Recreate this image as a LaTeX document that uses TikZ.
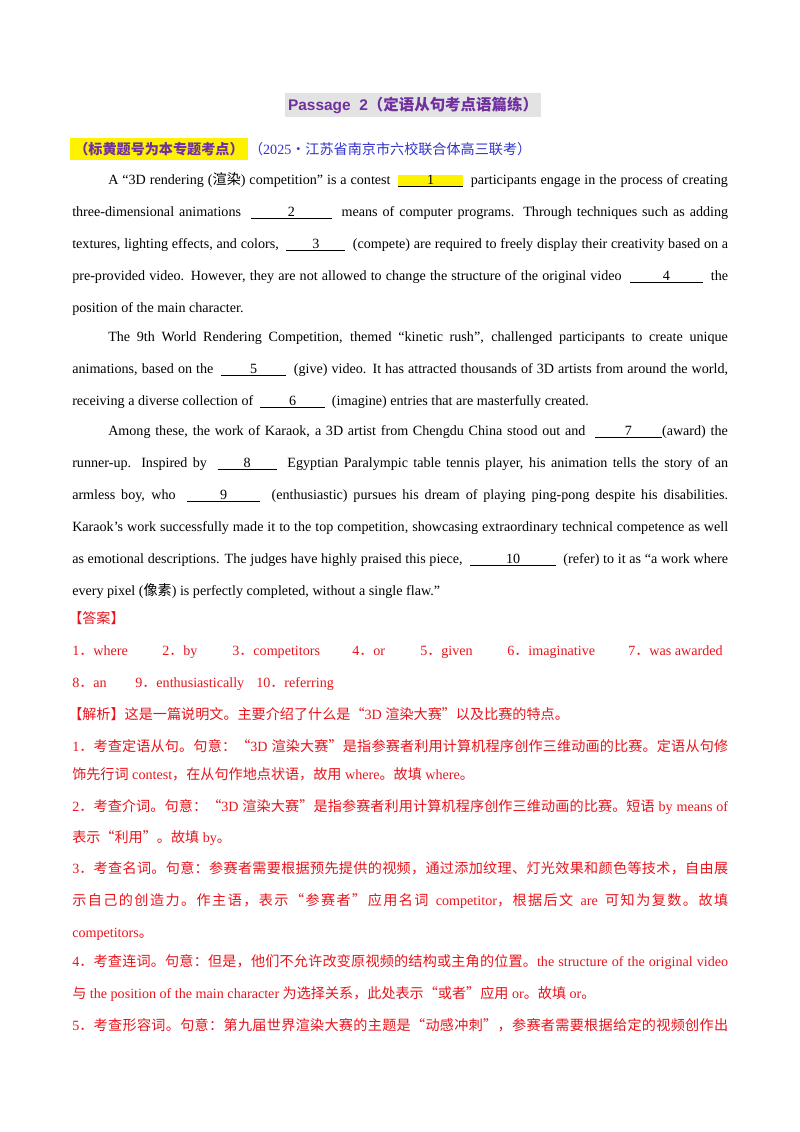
\documentclass[tikz,border=0pt]{standalone}
\usepackage{fontspec}
\setmainfont{Liberation Serif}
\newfontfamily\cjk{Noto Sans CJK SC}
\newfontfamily\hdsans{Liberation Sans}
\newcount\mycc
\mycc="4E00
\loop\ifnum\mycc<"A000 \XeTeXcharclass\mycc=1 \advance\mycc by 1 \repeat
\mycc="3000
\loop\ifnum\mycc<"3040 \XeTeXcharclass\mycc=1 \advance\mycc by 1 \repeat
\mycc="FF00
\loop\ifnum\mycc<"FF60 \XeTeXcharclass\mycc=1 \advance\mycc by 1 \repeat
\XeTeXcharclass"201C=1 \XeTeXcharclass"201D=1
\XeTeXinterchartokenstate=1
\XeTeXinterchartoks 1 1 = {\hskip0pt plus 0.5pt}
\newcommand\C[1]{{\cjk #1}}
\newcommand\blank[2]{\underline{\makebox[#1pt][c]{#2}}}
\newcommand\FL[1]{\makebox[488pt][s]{#1}}
\newcommand\IL[1]{\makebox[461pt][s]{#1}}
\definecolor{redt}{HTML}{E8141B}
\definecolor{bluet}{HTML}{3333CC}
\definecolor{purp}{HTML}{7030A0}
\tikzset{ln/.style={anchor=base west,inner sep=0pt,font=\fontsize{10.5pt}{12pt}\selectfont},
 rl/.style={ln,text=redt}}
\begin{document}
\begin{tikzpicture}[x=0.744pt,y=-0.744pt]
\useasboundingbox (0,0) rectangle (800,1132);
\node[fill=gray!22,inner xsep=2pt,inner ysep=3pt,text=purp,font=\fontsize{11.5pt}{13pt}\selectfont\bfseries] (title) at (413,105) {{\hdsans Passage\ \ 2}\C{（定语从句考点语篇练）}};
\node[ln] (hd) at (70,154) {\colorbox{yellow}{\color{purp}\bfseries\C{（标黄题号为本专题考点）}}\hspace{1pt}\color{bluet}\C{（}2025\C{·江苏省南京市六校联合体高三联考）}};
% P1
\node[ln] (a1) at (108,184) {\IL{A “3D rendering (\C{渲染}) competition” is a contest \ {\setlength\fboxsep{0pt}\colorbox{yellow}{\blank{48}{1}}} \ participants engage in the process of creating}};
\node[ln] (a2) at (72,216) {\FL{three-dimensional animations \ \blank{60}{2} \ means of computer programs. Through techniques such as adding}};
\node[ln] (a3) at (72,248) {\FL{textures, lighting effects, and colors, \ \blank{44}{3} \ (compete) are required to freely display their creativity based on a}};
\node[ln] (a4) at (72,280) {\FL{pre-provided video. However, they are not allowed to change the structure of the original video \ \blank{54}{4} \ the}};
\node[ln] (a5) at (72,312) {position of the main character.};
% P2
\node[ln] (b1) at (108,341) {\IL{The 9th World Rendering Competition, themed “kinetic rush”, challenged participants to create unique}};
\node[ln] (b2) at (72,373) {\FL{animations, based on the \ \blank{48}{5} \ (give) video. It has attracted thousands of 3D artists from around the world,}};
\node[ln] (b3) at (72,405) {receiving a diverse collection of \ \blank{48}{6} \ (imagine) entries that are masterfully created.};
% P3
\node[ln] (c1) at (108,435) {\IL{Among these, the work of Karaok, a 3D artist from Chengdu China stood out and \ \blank{50}{7}(award) the}};
\node[ln] (c2) at (72,467) {\FL{runner-up. Inspired by \ \blank{44}{8} \ Egyptian Paralympic table tennis player, his animation tells the story of an}};
\node[ln] (c3) at (72,499) {\FL{armless boy, who \ \blank{54}{9} \ (enthusiastic) pursues his dream of playing ping-pong despite his disabilities.}};
\node[ln] (c4) at (72,531) {\FL{Karaok’s work successfully made it to the top competition, showcasing extraordinary technical competence as well}};
\node[ln] (c5) at (72,563) {\FL{as emotional descriptions. The judges have highly praised this piece, \ \blank{64}{10} \ (refer) to it as “a work where}};
\node[ln] (c6) at (72,595) {every pixel (\C{像素}) is perfectly completed, without a single flaw.”};
% answers
\node[rl] (ans) at (68,623) {\C{【答案】}};
\node[rl] (n1) at (72,655) {1\C{．}where};
\node[rl] (n2) at (162,655) {2\C{．}by};
\node[rl] (n3) at (232,655) {3\C{．}competitors};
\node[rl] (n4) at (352,655) {4\C{．}or};
\node[rl] (n5) at (420,655) {5\C{．}given};
\node[rl] (n6) at (507,655) {6\C{．}imaginative};
\node[rl] (n7) at (628,655) {7\C{．}was awarded};
\node[rl] (n8) at (72,687) {8\C{．}an};
\node[rl] (n9) at (135,687) {9\C{．}enthusiastically};
\node[rl] (n10) at (256,687) {10\C{．}referring};
\node[rl] (jx) at (68,719) {\C{【解析】这是一篇说明文。主要介绍了什么是“}3D \C{渲染大赛”以及比赛的特点。}};
\node[rl] (e1) at (72,751) {\FL{1\C{．考查定语从句。句意：“}3D \C{渲染大赛”是指参赛者利用计算机程序创作三维动画的比赛。定语从句修}}};
\node[rl] (e2) at (72,779) {\C{饰先行词} contest\C{，在从句作地点状语，故用} where\C{。故填} where\C{。}};
\node[rl] (e3) at (72,811) {\FL{2\C{．考查介词。句意：“}3D \C{渲染大赛”是指参赛者利用计算机程序创作三维动画的比赛。短语} by means of}};
\node[rl] (e4) at (72,842) {\C{表示“利用”。故填} by\C{。}};
\node[rl] (e5) at (72,873) {\FL{3\C{．考查名词。句意：参赛者需要根据预先提供的视频，通过添加纹理、灯光效果和颜色等技术，自由展}}};
\node[rl] (e6) at (72,905) {\FL{\C{示自己的创造力。作主语，表示“参赛者”应用名词} competitor\C{，根据后文} are \C{可知为复数。故填}}};
\node[rl] (e7) at (72,937) {competitors\C{。}};
\node[rl] (e8) at (72,966) {\FL{4\C{．考查连词。句意：但是，他们不允许改变原视频的结构或主角的位置。}the structure of the original video}};
\node[rl] (e9) at (72,998) {\C{与} the position of the main character \C{为选择关系，此处表示“或者”应用} or\C{。故填} or\C{。}};
\node[rl] (e10) at (72,1030) {\FL{5\C{．考查形容词。句意：第九届世界渲染大赛的主题是“动感冲刺”，参赛者需要根据给定的视频创作出}}};
\end{tikzpicture}
\end{document}
